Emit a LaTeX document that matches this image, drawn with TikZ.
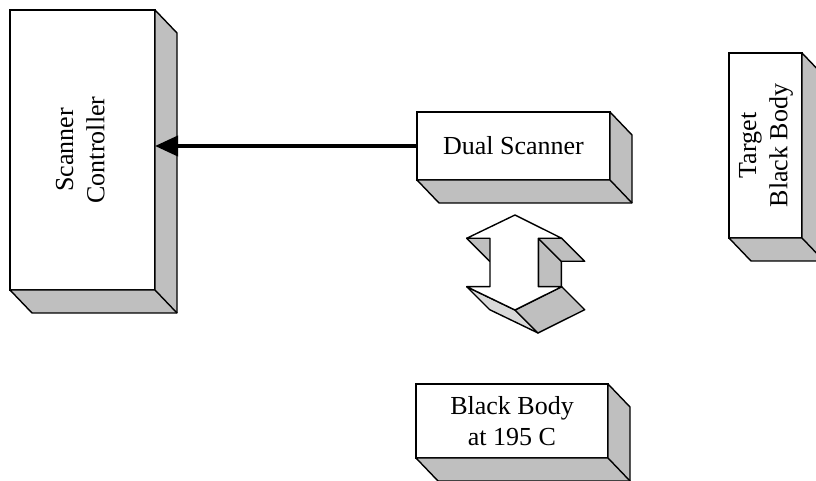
\documentclass[tikz,border=0pt]{standalone}
\usepackage{fontspec}
\setmainfont{Liberation Serif}
\usetikzlibrary{calc,arrows.meta}
\tikzset{
  front/.style={draw, line width=0.7pt, fill=white, inner sep=0pt, outer sep=0pt,
    align=center, font=\fontsize{13}{15.6}\selectfont},
  sideface/.style={fill=black!25, draw, line width=0.7pt, line join=round},
  edgeline/.style={draw, line width=0.7pt, line join=round},
  conn/.style={line width=2pt, -{Triangle[length=11.5pt,width=10pt]}},
}
\newcommand\depthfaces[1]{%
  \filldraw[sideface] (#1.north east) -- ++(22,23) -- ($(#1.south east)+(22,23)$)
    -- ($(#1.south west)+(22,23)$) -- (#1.south west) -- (#1.south east) -- cycle;
  \draw[edgeline] (#1.south east) -- ++(22,23);
}
\begin{document}
\begin{tikzpicture}[x=0.5pt,y=-0.5pt]
\useasboundingbox (0,0) rectangle (816,481);
\clip (0,0) rectangle (816,481);

% Scanner Controller
\node[front, minimum width=72.5pt, minimum height=140pt] (ctrl) at (82.5,150)
  {\rotatebox{90}{\begin{tabular}{@{}c@{}}Scanner\\Controller\end{tabular}}};
\depthfaces{ctrl}

% Dual Scanner
\node[front, minimum width=96.5pt, minimum height=34pt] (dual) at (513.5,146) {Dual Scanner};
\depthfaces{dual}

% Target Black Body
\node[front, minimum width=36.5pt, minimum height=92.5pt] (target) at (765.5,145.5)
  {\rotatebox{90}{\begin{tabular}{@{}c@{}}Target\\Black Body\end{tabular}}};
\depthfaces{target}

% Black Body at 195 C
\node[front, minimum width=96pt, minimum height=37pt] (bb) at (512,421)
  {Black Body\\at 195 C};
\depthfaces{bb}

% connector
\draw[conn] (dual.west) -- (dual.west -| ctrl.east);

% 3D double arrow
\coordinate (T)   at (515,215);
\coordinate (RT)  at (561.7,238.3);
\coordinate (SRT) at (538.3,238.3);
\coordinate (SRB) at (538.3,286.7);
\coordinate (RB)  at (561.7,286.7);
\coordinate (B)   at (515,310);
\coordinate (LB)  at (466.7,286.7);
\coordinate (SLB) at (490,286.7);
\coordinate (SLT) at (490,238.3);
\coordinate (LT)  at (466.7,238.3);
% shaft right face
\filldraw[sideface] (SRT) -- ($(SRT)+(23,23)$) -- ($(SRB)+(23,23)$) -- (SRB) -- cycle;
% top right head underside
\filldraw[sideface] (SRT) -- (RT) -- ($(RT)+(23,23)$) -- ($(SRT)+(23,23)$) -- cycle;
% top left head underside
\filldraw[sideface] (LT) -- (SLT) -- ($(SLT)+(23,23)$) -- ($(LT)+(23,23)$) -- cycle;
% lower left face
\filldraw[sideface, fill=black!15] (LB) -- (B) -- ($(B)+(23,23)$) -- ($(LB)+(23,23)$) -- cycle;
% lower right face
\filldraw[sideface] (B) -- (RB) -- ($(RB)+(23,23)$) -- ($(B)+(23,23)$) -- cycle;
% front face
\filldraw[edgeline, fill=white] (T) -- (RT) -- (SRT) -- (SRB) -- (RB) -- (B) -- (LB)
  -- (SLB) -- (SLT) -- (LT) -- cycle;
\end{tikzpicture}
\end{document}
